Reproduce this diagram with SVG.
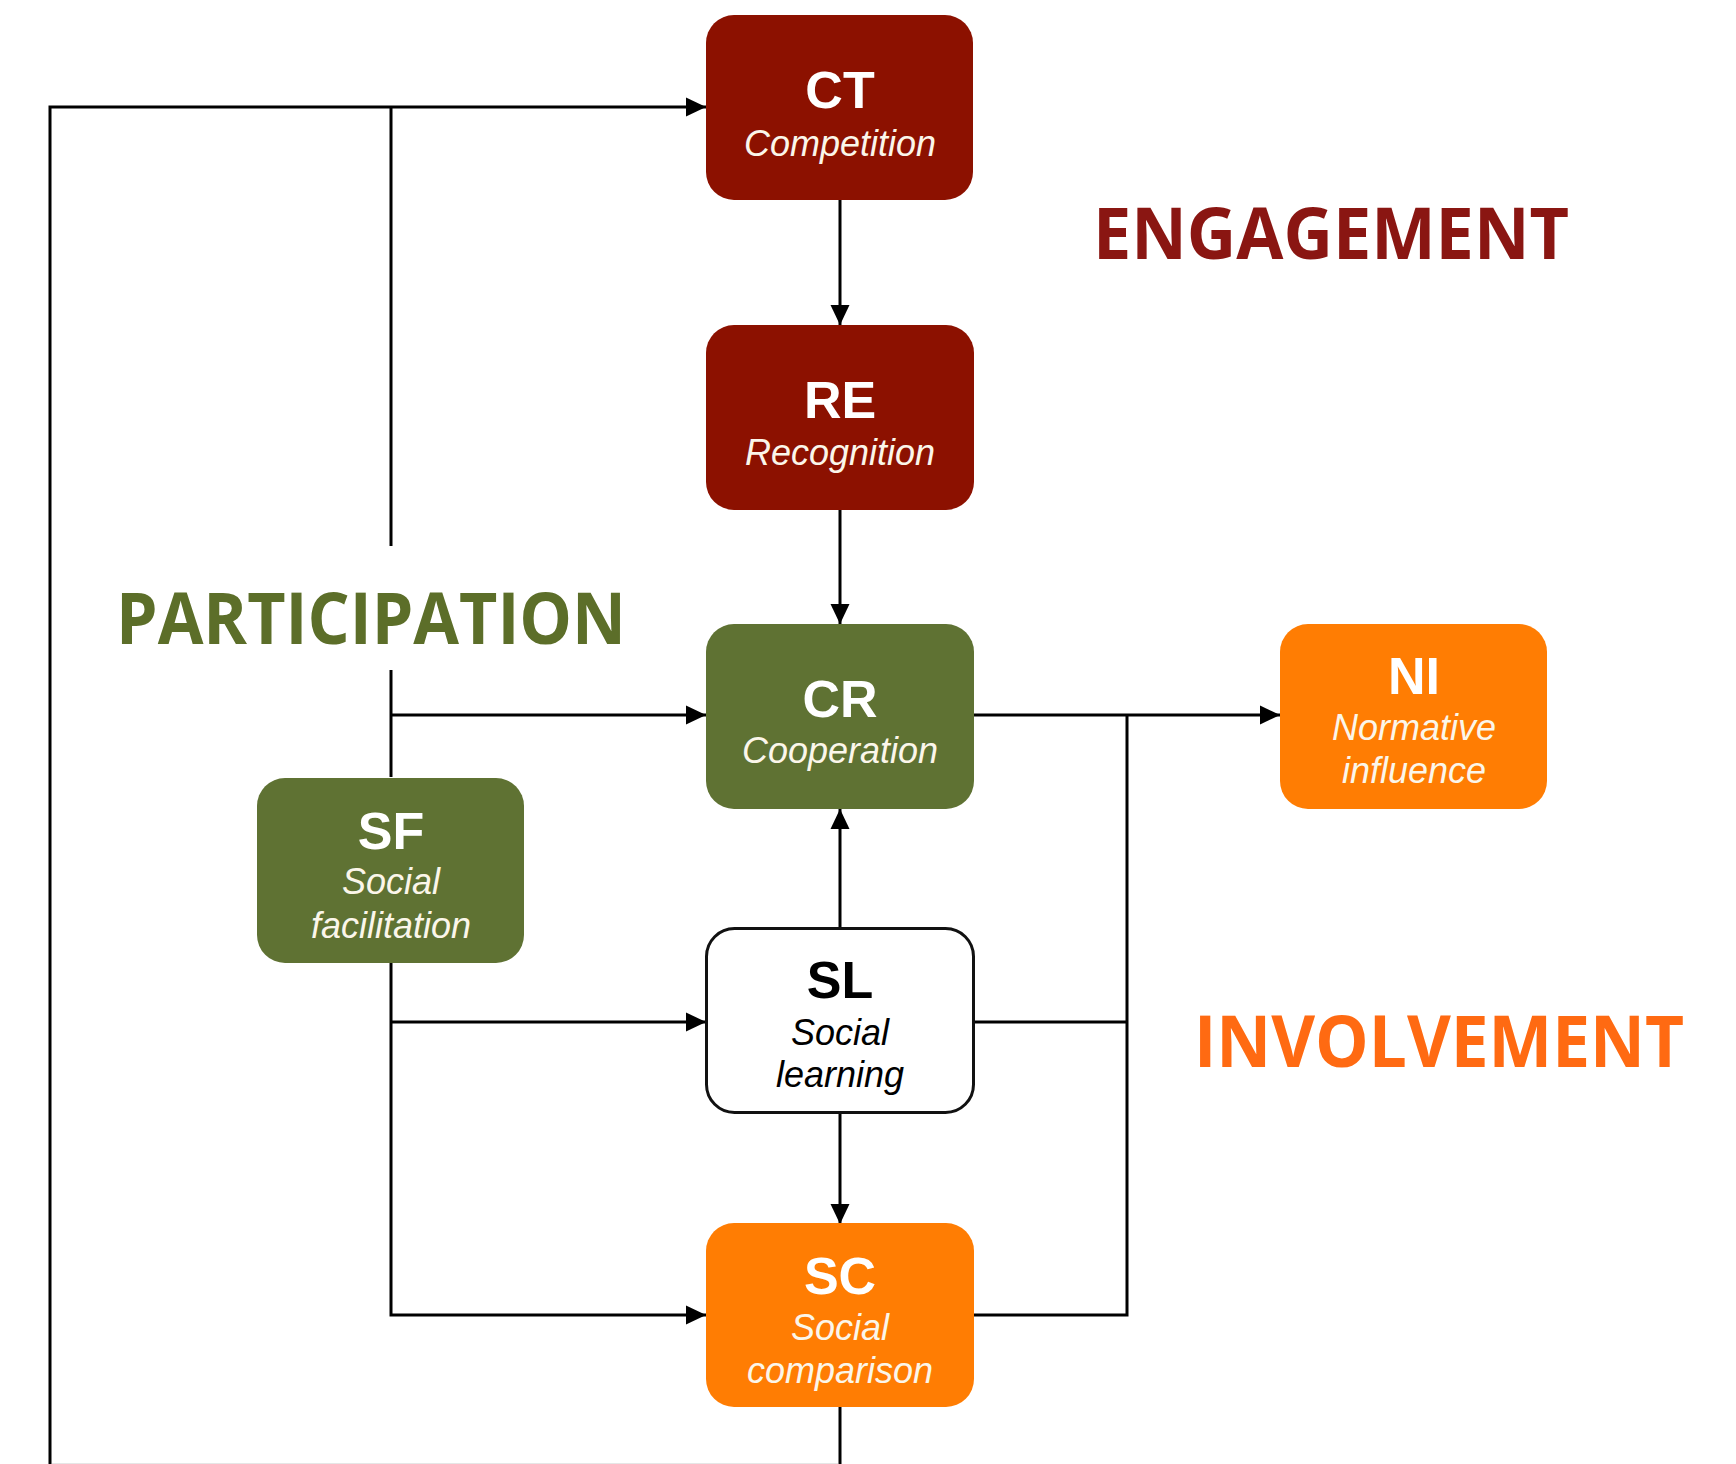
<svg xmlns="http://www.w3.org/2000/svg" width="1736" height="1464" viewBox="0 0 1736 1464">
<style>
.box{stroke:none}
.red{fill:#8c1100}
.green{fill:#5f7233}
.orange{fill:#ff7d03}
.white{fill:#ffffff;stroke:#111;stroke-width:3}
.t{font-family:"Liberation Sans",Arial,sans-serif;font-weight:bold;font-size:52px;text-anchor:middle}
.s{font-family:"Liberation Sans",Arial,sans-serif;font-style:italic;font-size:36px;text-anchor:middle}
.lt{fill:#ffffff}
.lt2{fill:#fbf6ea}
.dk{fill:#000000}
.big{font-family:"Open Sans","Liberation Sans",sans-serif;font-weight:bold;font-size:72px}
.conn{fill:none;stroke:#000;stroke-width:3}
</style>
<defs>
<marker id="arr" markerUnits="userSpaceOnUse" markerWidth="22" markerHeight="22" viewBox="0 0 22 22" refX="21" refY="11" orient="auto">
<path d="M1,1.5 L21,11 L1,20.5 Z" fill="#000"/>
</marker>
</defs>
<g id="connectors">
<path class="conn" d="M840 200 V325" marker-end="url(#arr)"/>
<path class="conn" d="M840 510 V624" marker-end="url(#arr)"/>
<path class="conn" d="M840 928 V809" marker-end="url(#arr)"/>
<path class="conn" d="M840 1113 V1224" marker-end="url(#arr)"/>
<path class="conn" d="M50 1466 V107 H706" marker-end="url(#arr)"/>
<path class="conn" d="M840 1407 V1466"/>
<path d="M52 1463.5 H838" fill="none" stroke="#e6e6e6" stroke-width="1"/>
<path class="conn" d="M391 107 V546"/>
<path class="conn" d="M391 777 V670"/>
<path class="conn" d="M391 715 H706" marker-end="url(#arr)"/>
<path class="conn" d="M391 962 V1315 H706" marker-end="url(#arr)"/>
<path class="conn" d="M391 1022 H706" marker-end="url(#arr)"/>
<path class="conn" d="M974 715 H1280" marker-end="url(#arr)"/>
<path class="conn" d="M974 1022 H1127"/>
<path class="conn" d="M974 1315 H1127 V715"/>
</g>
<g id="CT">
<rect class="box red" x="706" y="15" width="267" height="185" rx="28"/>
<text class="t lt" x="840" y="108">CT</text>
<text class="s lt2" x="840" y="156">Competition</text>
</g>
<g id="RE">
<rect class="box red" x="706" y="325" width="268" height="185" rx="28"/>
<text class="t lt" x="840" y="418">RE</text>
<text class="s lt2" x="840" y="465">Recognition</text>
</g>
<g id="CR">
<rect class="box green" x="706" y="624" width="268" height="185" rx="28"/>
<text class="t lt" x="840" y="717">CR</text>
<text class="s lt2" x="840" y="763">Cooperation</text>
</g>
<g id="NI">
<rect class="box orange" x="1280" y="624" width="267" height="185" rx="28"/>
<text class="t lt" x="1414" y="694">NI</text>
<text class="s lt2" x="1414" y="740">Normative</text>
<text class="s lt2" x="1414" y="783">influence</text>
</g>
<g id="SF">
<rect class="box green" x="257" y="778" width="267" height="185" rx="28"/>
<text class="t lt" x="391" y="849">SF</text>
<text class="s lt2" x="391" y="894">Social</text>
<text class="s lt2" x="391" y="938">facilitation</text>
</g>
<g id="SL">
<rect class="white" x="706.5" y="928.5" width="267" height="184" rx="28"/>
<text class="t dk" x="840" y="998">SL</text>
<text class="s dk" x="840" y="1045">Social</text>
<text class="s dk" x="840" y="1087">learning</text>
</g>
<g id="SC">
<rect class="box orange" x="706" y="1223" width="268" height="184" rx="28"/>
<text class="t lt" x="840" y="1294">SC</text>
<text class="s lt2" x="840" y="1340">Social</text>
<text class="s lt2" x="840" y="1383">comparison</text>
</g>
<g id="labels">
<text class="big" x="1093" y="259" fill="#8a1612" textLength="476" lengthAdjust="spacingAndGlyphs">ENGAGEMENT</text>
<text class="big" x="116" y="644" fill="#5c6e29" textLength="510" lengthAdjust="spacingAndGlyphs">PARTICIPATION</text>
<text class="big" x="1194" y="1067" fill="#ff6a12" textLength="490" lengthAdjust="spacingAndGlyphs">INVOLVEMENT</text>
</g>
</svg>
